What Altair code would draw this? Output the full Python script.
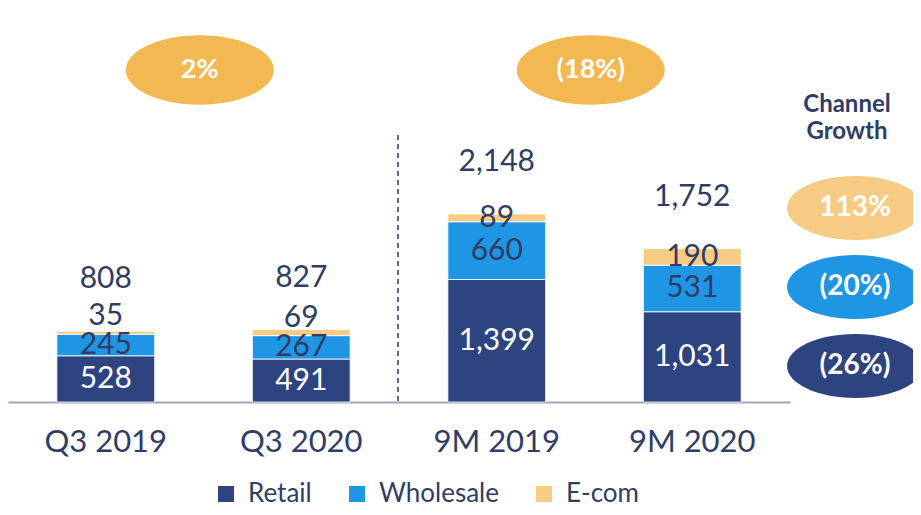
import altair as alt
import pandas as pd

categories = ["Q3 2019", "Q3 2020", "9M 2019", "9M 2020"]
retail = [528, 491, 1399, 1031]
wholesale = [245, 267, 660, 531]
ecom = [35, 69, 89, 190]
totals = [808, 827, 2148, 1752]
channels = ["Retail", "Wholesale", "E-com"]
channel_colors = ["#2E4480", "#1F96E4", "#F6CB84"]

group_growth_labels = ["2%", "(18%)"]
group_growth_anchor = ["Q3 2019", "9M 2019"]
channel_growth_labels = ["113%", "(20%)", "(26%)"]
channel_growth_colors = ["#F6CB84", "#1F96E4", "#2E4480"]
title_lines = ["Channel", "Growth"]

NAVY = "#2F3D66"
FONT = "Lato"
ELLIPSE = "M -1 0 A 1 0.47 0 1 0 1 0 A 1 0.47 0 1 0 -1 0 Z"

rows = []
for i, c in enumerate(categories):
    for j, (ch, vals) in enumerate(zip(channels, [retail, wholesale, ecom])):
        rows.append({"cat": c, "channel": ch, "value": vals[i], "idx": j})
long_df = pd.DataFrame(rows)
wide_df = pd.DataFrame({"cat": categories, "retail": retail, "wholesale": wholesale,
                        "ecom": ecom, "total": totals})

xscale = alt.Scale(domain=categories, range=[0, 782], paddingInner=0.5, paddingOuter=0.25)
yscale = alt.Scale(domain=[0, 4500], range=[394, 0])

X = alt.X("cat:N", scale=xscale, sort=categories,
          axis=alt.Axis(title=None, labelFontSize=31, labelColor=NAVY, labelFont=FONT,
                        labelPadding=25, domainColor="#A3A6B4", domainWidth=2, ticks=False,
                        labelAngle=0, grid=False))

bars = alt.Chart(long_df).mark_bar(stroke="white", strokeWidth=0.8).encode(
    x=X,
    y=alt.Y("value:Q", stack="zero", scale=yscale, axis=None),
    color=alt.Color("channel:N", scale=alt.Scale(domain=channels, range=channel_colors),
                    legend=alt.Legend(title=None, orient="none", legendX=205, legendY=473,
                                      direction="horizontal", symbolType="square",
                                      symbolSize=256, symbolStrokeWidth=0,
                                      labelFontSize=26, labelColor=NAVY, labelFont=FONT,
                                      labelOffset=9, columnPadding=32)),
    order=alt.Order("idx:Q", sort="ascending"),
)

base = alt.Chart(wide_df).transform_calculate(
    y_retail="datum.retail / 2",
    y_whole="datum.retail + datum.wholesale / 2",
    y_ecom="max(datum.retail + datum.wholesale + datum.ecom / 2, datum.retail + datum.wholesale / 2 + 330)",
    t_retail="format(datum.retail, ',')",
    t_whole="format(datum.wholesale, ',')",
    t_ecom="format(datum.ecom, ',')",
    t_total="format(datum.total, ',')",
)

txt = dict(font=FONT, fontSize=30, baseline="middle", align="center")
l_retail = base.mark_text(color="white", **txt).encode(
    x=X, y=alt.Y("y_retail:Q", scale=yscale, axis=None), text="t_retail:N")
l_whole = base.mark_text(color=NAVY, **txt).encode(
    x=X, y=alt.Y("y_whole:Q", scale=yscale, axis=None), text="t_whole:N")
l_ecom = base.mark_text(color=NAVY, **txt).encode(
    x=X, y=alt.Y("y_ecom:Q", scale=yscale, axis=None), text="t_ecom:N")
l_total = base.mark_text(color=NAVY, dy=-52, **txt).encode(
    x=X, y=alt.Y("total:Q", scale=yscale, axis=None), text="t_total:N")

gdf = pd.DataFrame({"cat": group_growth_anchor, "label": group_growth_labels})
g_ell = alt.Chart(gdf).mark_point(shape=ELLIPSE, filled=True, opacity=1, size=148 * 148,
                                   color="#F2B852", xOffset=94).encode(
    x=X, y=alt.value(62))
g_txt = alt.Chart(gdf).mark_text(color="white", font=FONT, fontSize=27, fontWeight="bold",
                                  baseline="middle", align="center", xOffset=94).encode(
    x=X, y=alt.value(62), text="label:N")

cdf = pd.DataFrame({"label": channel_growth_labels, "color": channel_growth_colors,
                    "pos": [0, 1, 2]})
cscale = alt.Scale(domain=[0, 2], range=[200, 358])
c_ell = alt.Chart(cdf).mark_point(shape=ELLIPSE, filled=True, opacity=1, size=136 * 136).encode(
    x=alt.value(847),
    y=alt.Y("pos:Q", scale=cscale, axis=None),
    color=alt.Color("color:N", scale=None))
c_txt = alt.Chart(cdf).mark_text(color="white", font=FONT, fontSize=28, fontWeight="bold",
                                  baseline="middle", align="center").encode(
    x=alt.value(847),
    y=alt.Y("pos:Q", scale=cscale, axis=None),
    text="label:N")

title_df = pd.DataFrame({"t": title_lines, "pos": [0, 1]})
c_title = alt.Chart(title_df).mark_text(color=NAVY, font=FONT, fontSize=24, fontWeight="bold",
                                         baseline="middle", align="center").encode(
    x=alt.value(839),
    y=alt.Y("pos:Q", scale=alt.Scale(domain=[0, 1], range=[97, 124]), axis=None),
    text="t:N")

sep = alt.Chart(pd.DataFrame({"a": [0]})).mark_rule(color=NAVY, strokeDash=[5, 4], strokeWidth=1.5).encode(
    x=alt.value(390), y=alt.value(127), y2=alt.value(394))

chart = alt.layer(bars, l_retail, l_whole, l_ecom, l_total, sep, g_ell, g_txt,
                  c_ell, c_txt, c_title).resolve_scale(y="independent", color="independent").properties(
    width=905, height=394,
    background="white",
    padding={"left": 0, "top": 0, "right": 0, "bottom": 105},
    autosize=alt.AutoSizeParams(type="none"),
).configure_view(stroke="transparent", strokeWidth=0)

chart.save("out.html", embed_options={"renderer": "svg", "actions": False})
